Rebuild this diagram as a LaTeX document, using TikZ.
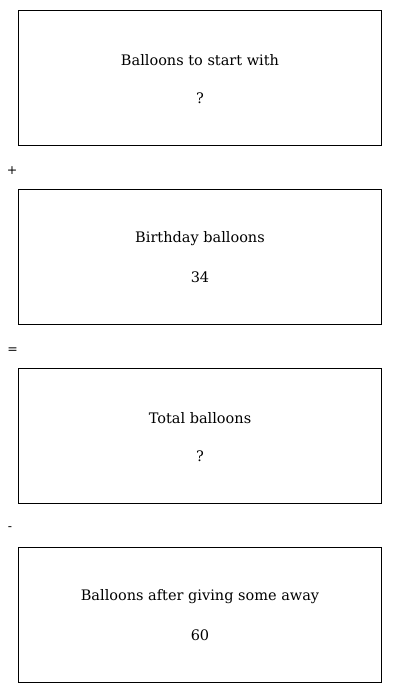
\documentclass[tikz,border=0pt]{standalone}
\usepackage{fontspec}
\setmainfont{DejaVu Serif}
\begin{document}
\begin{tikzpicture}[x=1pt,y=-1pt,
  boxst/.style={draw=black,line width=0.9pt,minimum width=363pt,minimum height=135pt,anchor=north west,inner sep=0pt},
  lbl/.style={font=\fontsize{14.5}{17}\selectfont,anchor=center},
  opst/.style={font=\fontsize{12.5}{14}\selectfont,anchor=center}]
\useasboundingbox (0,0) rectangle (400,693);
\node[boxst] (b1) at (18,10) {};
\node[boxst] (b2) at (18,189) {};
\node[boxst] (b3) at (18,368) {};
\node[boxst] (b4) at (18,547) {};
\node[lbl] (t1) at (200,60) {Balloons to start with};
\node[lbl] (v1) at (200,98) {?};
\node[lbl] (t2) at (200,239) {Birthday balloons};
\node[lbl] (v2) at (200,277) {34};
\node[lbl] (t3) at (200,418) {Total balloons};
\node[lbl] (v3) at (200,456) {?};
\node[lbl] (t4) at (200,597) {Balloons after giving some away};
\node[lbl] (v4) at (200,635) {60};
\node[opst] (o1) at (12,171) {+};
\node[opst] (o2) at (12.5,350.5) {=};
\node[opst] (o3) at (10,529) {-};
\end{tikzpicture}
\end{document}
